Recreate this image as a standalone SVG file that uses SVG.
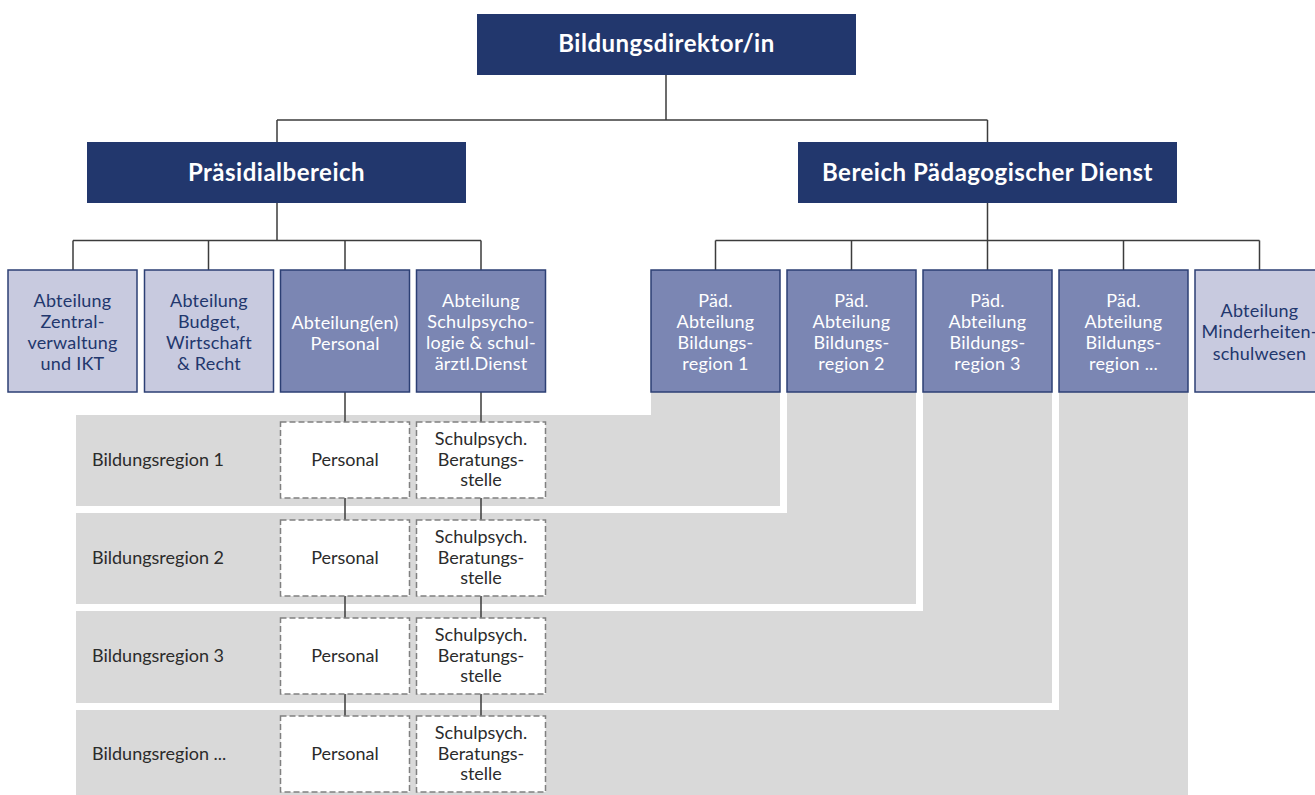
<svg xmlns="http://www.w3.org/2000/svg" width="1315" height="795" viewBox="0 0 1315 795">
<style>
.top{fill:#22376d}
.mid{fill:#7b86b3;stroke:#2c3f74;stroke-width:1.5}
.lite{fill:#c8cadf;stroke:#2c3f74;stroke-width:1.5}
.dash{fill:#ffffff;stroke:#808080;stroke-width:1.5;stroke-dasharray:6 3}
.band{fill:#d9d9d9}
.ttl{font-family:Lato,"Liberation Sans",sans-serif;font-weight:bold;font-size:24px;letter-spacing:0.5px;fill:#ffffff;text-anchor:middle}
.tw{font-family:Lato,"Liberation Sans",sans-serif;font-size:18px;letter-spacing:0.2px;fill:#ffffff;text-anchor:middle}
.tn{font-family:Lato,"Liberation Sans",sans-serif;font-size:18px;letter-spacing:0.2px;fill:#22376d;text-anchor:middle}
.tg{font-family:Lato,"Liberation Sans",sans-serif;font-size:18px;fill:#2b2b2b;text-anchor:middle}
.tl{font-family:Lato,"Liberation Sans",sans-serif;font-size:18px;fill:#2b2b2b}
.con{fill:none;stroke:#3c3c3c;stroke-width:1.5}
</style>
<g id="bands">
<path class="band" d="M76,415 H651 V392 H780 V506 H76 Z"/>
<path class="band" d="M76,513 H787 V392 H916 V604 H76 Z"/>
<path class="band" d="M76,611 H923 V392 H1052 V703 H76 Z"/>
<path class="band" d="M76,710 H1059 V392 H1188 V795 H76 Z"/>
</g>
<g id="connectors">
<path class="con" d="M666,75 V120 M277,120 H987.5 M277,120 V142 M987.5,120 V142"/>
<path class="con" d="M277,203 V240.5 M73,240.5 H481 M73,240.5 V270 M208.5,240.5 V270 M345,240.5 V270 M481,240.5 V270"/>
<path class="con" d="M987.5,203 V240.5 M715.5,240.5 H1259.5 M715.5,240.5 V270 M851.5,240.5 V270 M987.5,240.5 V270 M1123.5,240.5 V270 M1259.5,240.5 V270"/>
<path class="con" d="M345,392 V716 M481,392 V716"/>
</g>
<g id="n-direktor">
<rect class="top" x="477" y="14" width="379" height="61"/>
<text class="ttl" x="666.5" y="52">Bildungsdirektor/in</text>
</g>
<g id="n-praesidial">
<rect class="top" x="87" y="142" width="379" height="61"/>
<text class="ttl" x="276.5" y="180.5">Präsidialbereich</text>
</g>
<g id="n-paed">
<rect class="top" x="798" y="142" width="379" height="61"/>
<text class="ttl" x="987.5" y="180.5">Bereich Pädagogischer Dienst</text>
</g>
<g id="n-zentral">
<rect class="lite" x="8" y="270" width="129" height="122"/>
<text class="tn" x="72.5" y="306.5">Abteilung<tspan x="72.5" y="327.8">Zentral-</tspan><tspan x="72.5" y="349">verwaltung</tspan><tspan x="72.5" y="370.3">und IKT</tspan></text>
</g>
<g id="n-budget">
<rect class="lite" x="144.5" y="270" width="129" height="122"/>
<text class="tn" x="209" y="306.5">Abteilung<tspan x="209" y="327.8">Budget,</tspan><tspan x="209" y="349">Wirtschaft</tspan><tspan x="209" y="370.3">&amp; Recht</tspan></text>
</g>
<g id="n-personal">
<rect class="mid" x="280.5" y="270" width="129" height="122"/>
<text class="tw" x="345" y="328.5">Abteilung(en)<tspan x="345" y="349.8">Personal</tspan></text>
</g>
<g id="n-schulpsych">
<rect class="mid" x="416.5" y="270" width="129" height="122"/>
<text class="tw" x="481" y="306.5">Abteilung<tspan x="481" y="327.8">Schulpsycho-</tspan><tspan x="481" y="349">logie &amp; schul-</tspan><tspan x="481" y="370.3">ärztl.Dienst</tspan></text>
</g>
<g id="n-paed1">
<rect class="mid" x="651" y="270" width="129" height="122"/>
<text class="tw" x="715.5" y="306.5">Päd.<tspan x="715.5" y="327.8">Abteilung</tspan><tspan x="715.5" y="349">Bildungs-</tspan><tspan x="715.5" y="370.3">region 1</tspan></text>
</g>
<g id="n-paed2">
<rect class="mid" x="787" y="270" width="129" height="122"/>
<text class="tw" x="851.5" y="306.5">Päd.<tspan x="851.5" y="327.8">Abteilung</tspan><tspan x="851.5" y="349">Bildungs-</tspan><tspan x="851.5" y="370.3">region 2</tspan></text>
</g>
<g id="n-paed3">
<rect class="mid" x="923" y="270" width="129" height="122"/>
<text class="tw" x="987.5" y="306.5">Päd.<tspan x="987.5" y="327.8">Abteilung</tspan><tspan x="987.5" y="349">Bildungs-</tspan><tspan x="987.5" y="370.3">region 3</tspan></text>
</g>
<g id="n-paed4">
<rect class="mid" x="1059" y="270" width="129" height="122"/>
<text class="tw" x="1123.5" y="306.5">Päd.<tspan x="1123.5" y="327.8">Abteilung</tspan><tspan x="1123.5" y="349">Bildungs-</tspan><tspan x="1123.5" y="370.3">region ...</tspan></text>
</g>
<g id="n-minderheiten">
<rect class="lite" x="1195" y="270" width="129" height="122"/>
<text class="tn" x="1259.5" y="317">Abteilung<tspan x="1259.5" y="338.3">Minderheiten-</tspan><tspan x="1259.5" y="359.6">schulwesen</tspan></text>
</g>
<g id="region1">
<text class="tl" x="92" y="466">Bildungsregion 1</text>
<rect class="dash" x="280.5" y="422" width="129" height="76"/>
<text class="tg" x="345" y="466">Personal</text>
<rect class="dash" x="416.5" y="422" width="129" height="76"/>
<text class="tg" x="481" y="445">Schulpsych.<tspan x="481" y="465.5">Beratungs-</tspan><tspan x="481" y="486">stelle</tspan></text>
</g>
<g id="region2">
<text class="tl" x="92" y="564">Bildungsregion 2</text>
<rect class="dash" x="280.5" y="520" width="129" height="76"/>
<text class="tg" x="345" y="564">Personal</text>
<rect class="dash" x="416.5" y="520" width="129" height="76"/>
<text class="tg" x="481" y="543">Schulpsych.<tspan x="481" y="563.5">Beratungs-</tspan><tspan x="481" y="584">stelle</tspan></text>
</g>
<g id="region3">
<text class="tl" x="92" y="662">Bildungsregion 3</text>
<rect class="dash" x="280.5" y="618" width="129" height="76"/>
<text class="tg" x="345" y="662">Personal</text>
<rect class="dash" x="416.5" y="618" width="129" height="76"/>
<text class="tg" x="481" y="641">Schulpsych.<tspan x="481" y="661.5">Beratungs-</tspan><tspan x="481" y="682">stelle</tspan></text>
</g>
<g id="region4">
<text class="tl" x="92" y="760">Bildungsregion ...</text>
<rect class="dash" x="280.5" y="716" width="129" height="76"/>
<text class="tg" x="345" y="760">Personal</text>
<rect class="dash" x="416.5" y="716" width="129" height="76"/>
<text class="tg" x="481" y="739">Schulpsych.<tspan x="481" y="759.5">Beratungs-</tspan><tspan x="481" y="780">stelle</tspan></text>
</g>
</svg>
